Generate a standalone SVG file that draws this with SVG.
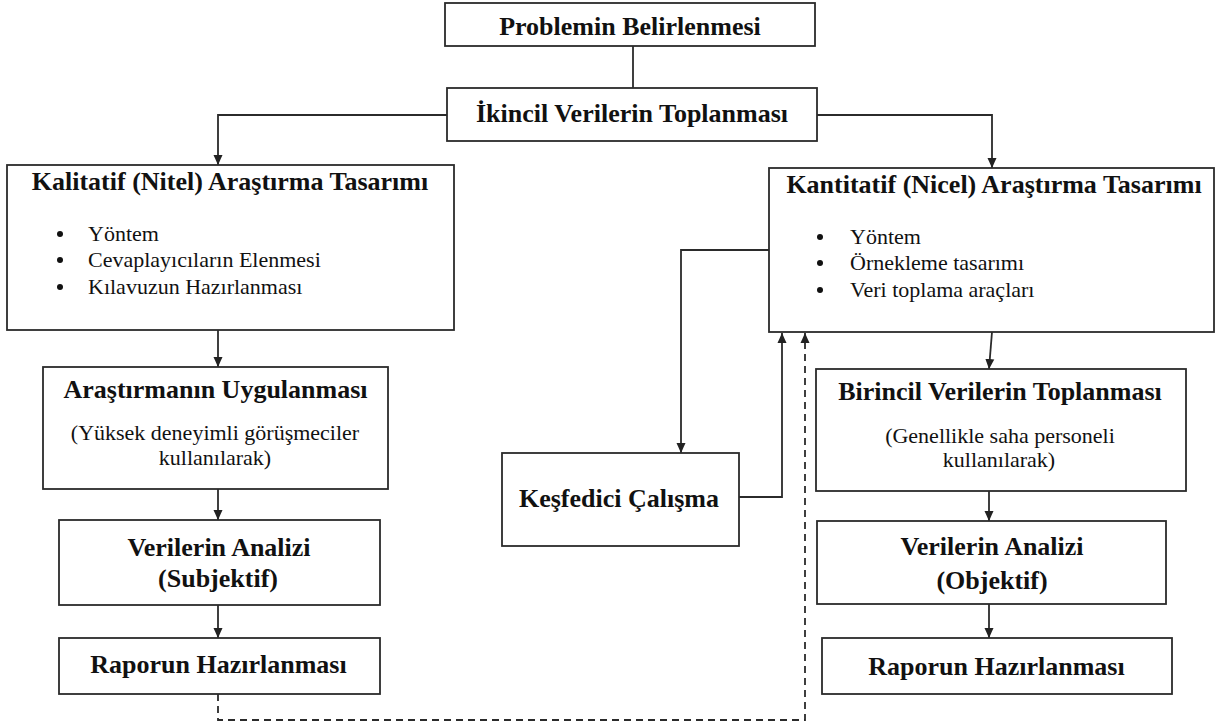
<svg xmlns="http://www.w3.org/2000/svg" width="1219" height="726" viewBox="0 0 1219 726">
  <defs>
    <marker id="arrow" markerUnits="userSpaceOnUse" markerWidth="10" markerHeight="10" refX="10" refY="5" orient="auto">
      <path d="M0,0.5 L10,5 L0,9.5 z" fill="#222"/>
    </marker>
    <style>
      .box { fill: #fff; stroke: #2b2b2b; stroke-width: 1.8; }
      .edge { fill: none; stroke: #2b2b2b; stroke-width: 1.8; }
      .dash { stroke-dasharray: 7 5; }
      .title { font-weight: bold; font-size: 26px; text-anchor: middle; fill: #111; }
      .body { font-size: 22px; fill: #111; }
      .mid { text-anchor: middle; }
      .dot { fill: #111; }
    </style>
  </defs>
  <rect width="1219" height="726" fill="#fff"/>

  <!-- connectors -->
  <g id="connectors">
    <path class="edge" d="M633,46 V88"/>
    <path class="edge" d="M447,115 H218 V165" marker-end="url(#arrow)"/>
    <path class="edge" d="M817,115 H992 V168" marker-end="url(#arrow)"/>
    <path class="edge" d="M218,330 V367" marker-end="url(#arrow)"/>
    <path class="edge" d="M218,489 V520" marker-end="url(#arrow)"/>
    <path class="edge" d="M218,605 V638" marker-end="url(#arrow)"/>
    <path class="edge dash" d="M218,694 V720 H805 V333" marker-end="url(#arrow)"/>
    <path class="edge" d="M769,250 H681 V453" marker-end="url(#arrow)"/>
    <path class="edge" d="M739,497 H782 V333" marker-end="url(#arrow)"/>
    <path class="edge" d="M992,332 L989,369" marker-end="url(#arrow)"/>
    <path class="edge" d="M989,491 V521" marker-end="url(#arrow)"/>
    <path class="edge" d="M989,604 V638" marker-end="url(#arrow)"/>
  </g>

  <g id="nodes">
    <g id="problem">
      <rect class="box" x="445" y="3" width="370" height="43"/>
      <text class="title" font-family="Liberation Serif" x="630" y="35">Problemin Belirlenmesi</text>
    </g>

    <g id="secondary-data">
      <rect class="box" x="447" y="88" width="370" height="53"/>
      <text class="title" font-family="Liberation Serif" x="632" y="122">İkincil Verilerin Toplanması</text>
    </g>

    <g id="qualitative-design">
      <rect class="box" x="7" y="165" width="447" height="165"/>
      <text class="title" font-family="Liberation Serif" x="230" y="190">Kalitatif (Nitel) Araştırma Tasarımı</text>
      <circle class="dot" cx="60" cy="234" r="3"/>
      <circle class="dot" cx="60" cy="260" r="3"/>
      <circle class="dot" cx="60" cy="287" r="3"/>
      <text class="body" font-family="Liberation Serif" x="88" y="241">Yöntem</text>
      <text class="body" font-family="Liberation Serif" x="88" y="267">Cevaplayıcıların Elenmesi</text>
      <text class="body" font-family="Liberation Serif" x="88" y="294">Kılavuzun Hazırlanması</text>
    </g>

    <g id="qualitative-fieldwork">
      <rect class="box" x="43" y="367" width="345" height="122"/>
      <text class="title" font-family="Liberation Serif" x="215.5" y="398">Araştırmanın Uygulanması</text>
      <text class="body mid" font-family="Liberation Serif" x="215" y="440">(Yüksek deneyimli görüşmeciler</text>
      <text class="body mid" font-family="Liberation Serif" x="215" y="465">kullanılarak)</text>
    </g>

    <g id="qualitative-analysis">
      <rect class="box" x="59" y="520" width="321" height="85"/>
      <text class="title" font-family="Liberation Serif" x="219" y="556">Verilerin Analizi</text>
      <text class="title" font-family="Liberation Serif" x="218" y="587">(Subjektif)</text>
    </g>

    <g id="qualitative-report">
      <rect class="box" x="59" y="638" width="321" height="56"/>
      <text class="title" font-family="Liberation Serif" x="218.5" y="673">Raporun Hazırlanması</text>
    </g>

    <g id="quantitative-design">
      <rect class="box" x="769" y="168" width="445" height="164"/>
      <text class="title" font-family="Liberation Serif" x="994" y="193">Kantitatif (Nicel) Araştırma Tasarımı</text>
      <circle class="dot" cx="820" cy="237" r="3"/>
      <circle class="dot" cx="820" cy="263" r="3"/>
      <circle class="dot" cx="820" cy="290" r="3"/>
      <text class="body" font-family="Liberation Serif" x="850" y="244">Yöntem</text>
      <text class="body" font-family="Liberation Serif" x="850" y="270">Örnekleme tasarımı</text>
      <text class="body" font-family="Liberation Serif" x="850" y="297">Veri toplama araçları</text>
    </g>

    <g id="exploratory-study">
      <rect class="box" x="502" y="453" width="237" height="93"/>
      <text class="title" font-family="Liberation Serif" x="619" y="507">Keşfedici Çalışma</text>
    </g>

    <g id="primary-data">
      <rect class="box" x="816" y="369" width="370" height="122"/>
      <text class="title" font-family="Liberation Serif" x="1000" y="400">Birincil Verilerin Toplanması</text>
      <text class="body mid" font-family="Liberation Serif" x="1000" y="443">(Genellikle saha personeli</text>
      <text class="body mid" font-family="Liberation Serif" x="999" y="467">kullanılarak)</text>
    </g>

    <g id="quantitative-analysis">
      <rect class="box" x="817" y="521" width="349" height="83"/>
      <text class="title" font-family="Liberation Serif" x="992" y="555">Verilerin Analizi</text>
      <text class="title" font-family="Liberation Serif" x="992" y="589">(Objektif)</text>
    </g>

    <g id="quantitative-report">
      <rect class="box" x="822" y="638" width="350" height="56"/>
      <text class="title" font-family="Liberation Serif" x="996.5" y="675">Raporun Hazırlanması</text>
    </g>
  </g>
</svg>
